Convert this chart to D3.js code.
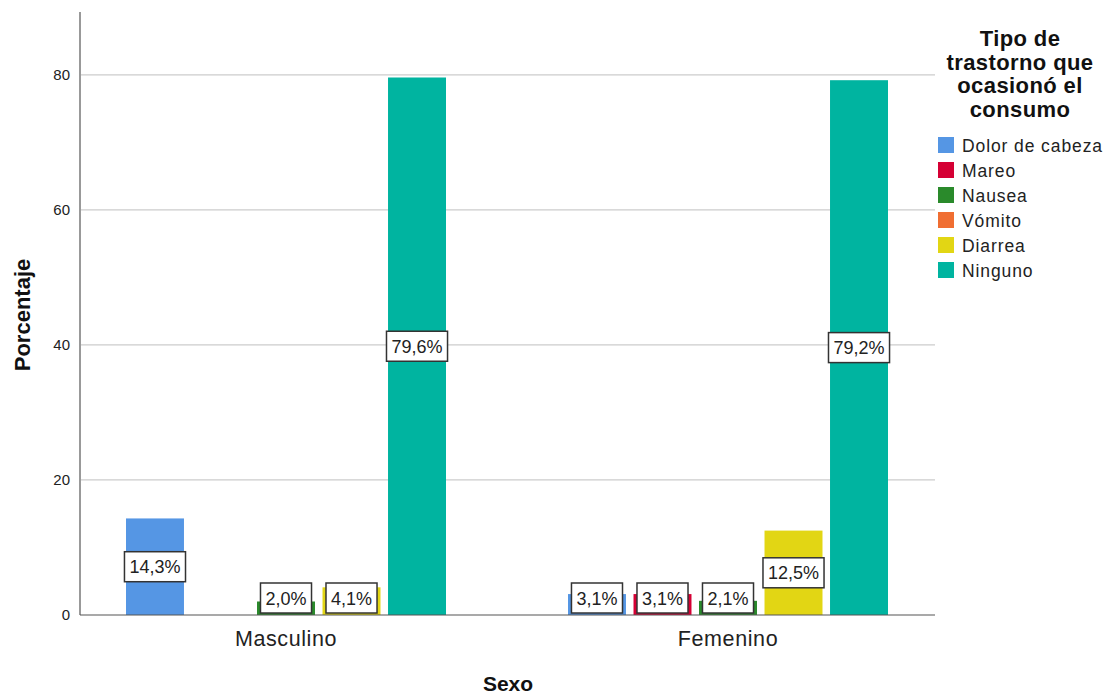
<!DOCTYPE html>
<html>
<head>
<meta charset="utf-8">
<script src="https://cdn.jsdelivr.net/npm/d3@7"></script>
<style>
  html, body { margin: 0; padding: 0; background: #fff; }
  svg { display: block; font-family: "Liberation Sans", Arial, sans-serif; }
</style>
</head>
<body>
<svg id="chart" width="1105" height="697"></svg>
<script>
const groups = ["Masculino", "Femenino"];
const categories = ["Dolor de cabeza", "Mareo", "Nausea", "Vómito", "Diarrea", "Ninguno"];
const colors = ["#5596e4", "#d50034", "#2a8a2b", "#f06e32", "#e2d614", "#00b4a0"];
const masculinoValues = [14.3, 0, 2.0, 0, 4.1, 79.6];
const femeninoValues = [3.1, 3.1, 2.1, 0, 12.5, 79.2];
const yTicks = [0, 20, 40, 60, 80];
const legendTitle = ["Tipo de", "trastorno que", "ocasionó el", "consumo"];

(function () {
const valuesByGroup = { "Masculino": masculinoValues, "Femenino": femeninoValues };
const fmt = v => v.toFixed(1).replace(".", ",") + "%";

const svg = d3.select("#chart");
const pL = 80, pR = 935, pT = 12, pB = 615;

const y = d3.scaleLinear().domain([0, 89.3]).range([pB, pT]);
const x0 = d3.scaleBand().domain(groups).range([65, 949]).padding(0);
// categories shown on the axis: those with any non-zero value
const shownCats = categories.filter((c, i) => groups.some(g => valuesByGroup[g][i] > 0));
const x1 = d3.scaleBand().domain(shownCats).range([-160, 160]).paddingInner(0.115).paddingOuter(0);
const color = d3.scaleOrdinal().domain(categories).range(colors);

// gridlines
svg.append("g").selectAll("line").data(yTicks.filter(t => t > 0)).join("line")
  .attr("x1", pL).attr("x2", pR)
  .attr("y1", d => y(d)).attr("y2", d => y(d))
  .attr("stroke", "#cccccc").attr("stroke-width", 1.2);

// y axis
const yAxis = d3.axisLeft(y).tickValues(yTicks).tickSize(0).tickPadding(10).tickFormat(d3.format("d"));
const yg = svg.append("g").attr("transform", `translate(${pL},0)`).call(yAxis);
yg.select(".domain").remove();
yg.selectAll("text").attr("font-size", 15).attr("fill", "#222").attr("font-family", "Liberation Sans, Arial, sans-serif");
svg.append("line").attr("x1", pL).attr("x2", pL).attr("y1", pT).attr("y2", pB)
  .attr("stroke", "#999").attr("stroke-width", 2);

// bars
const data = [];
groups.forEach(g => categories.forEach((c, i) => {
  data.push({ group: g, cat: c, value: valuesByGroup[g][i] });
}));
const barData = data.filter(d => d.value > 0);

svg.append("g").selectAll("rect").data(barData).join("rect")
  .attr("x", d => x0(d.group) + x0.bandwidth() / 2 + x1(d.cat))
  .attr("width", x1.bandwidth())
  .attr("y", d => y(d.value))
  .attr("height", d => y(0) - y(d.value))
  .attr("fill", d => color(d.cat));

// x axis baseline
svg.append("line").attr("x1", pL).attr("x2", pR).attr("y1", pB).attr("y2", pB)
  .attr("stroke", "#555").attr("stroke-width", 1.2);

// x labels
svg.append("g").selectAll("text").data(groups).join("text")
  .attr("x", d => x0(d) + x0.bandwidth() / 2)
  .attr("y", 646)
  .attr("text-anchor", "middle")
  .attr("font-size", 21.5)
  .attr("letter-spacing", 0.6)
  .attr("fill", "#222")
  .text(d => d);

// value labels
const lblG = svg.append("g");
barData.forEach(d => {
  const cx = x0(d.group) + x0.bandwidth() / 2 + x1(d.cat) + x1.bandwidth() / 2;
  let cy = y(d.value / 2);
  const h = 30;
  cy = Math.min(cy, y(0) - h / 2 - 2);
  const g = lblG.append("g");
  const t = g.append("text").attr("x", cx).attr("y", cy + 6.5)
    .attr("text-anchor", "middle").attr("font-size", 18).attr("fill", "#222")
    .text(fmt(d.value));
  const w = t.node().getComputedTextLength() + 10;
  g.insert("rect", "text").attr("x", cx - w / 2).attr("y", cy - h / 2)
    .attr("width", w).attr("height", h)
    .attr("fill", "#fff").attr("stroke", "#333").attr("stroke-width", 1.5);
});

// axis titles
svg.append("text").attr("transform", "translate(30,315) rotate(-90)")
  .attr("text-anchor", "middle").attr("font-size", 22).attr("font-weight", "bold")
  .attr("fill", "#111").text("Porcentaje");
svg.append("text").attr("x", 508).attr("y", 691)
  .attr("text-anchor", "middle").attr("font-size", 21).attr("font-weight", "bold")
  .attr("fill", "#111").text("Sexo");

// legend
const lg = svg.append("g");
lg.selectAll("text.title").data(legendTitle).join("text").attr("class", "title")
  .attr("x", 1020).attr("y", (d, i) => 46 + i * 23.7)
  .attr("text-anchor", "middle").attr("font-size", 22).attr("font-weight", "bold")
  .attr("letter-spacing", 0.4)
  .attr("fill", "#111").text(d => d);
const items = lg.selectAll("g.item").data(categories).join("g").attr("class", "item")
  .attr("transform", (d, i) => `translate(938,${137 + i * 25})`);
items.append("rect").attr("width", 16).attr("height", 16).attr("fill", d => color(d));
items.append("text").attr("x", 24).attr("y", 14.5).attr("font-size", 17.5)
  .attr("letter-spacing", 0.9).attr("fill", "#222").text(d => d);
})();
</script>
</body>
</html>
